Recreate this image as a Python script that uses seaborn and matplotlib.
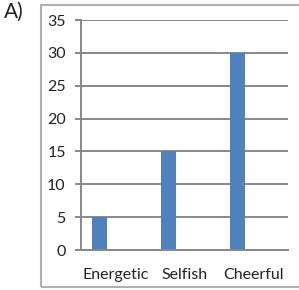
import numpy as np
import pandas as pd
import matplotlib
matplotlib.use("Agg")
import matplotlib.pyplot as plt
import seaborn as sns
from matplotlib.patches import Rectangle

categories = ["Energetic", "Selfish", "Cheerful"]
values = [5, 15, 30]
empty_series = [0, 0, 0]
y_ticks = [0, 5, 10, 15, 20, 25, 30, 35]

df = pd.DataFrame({
    "trait": categories * 2,
    "count": values + empty_series,
    "series": ["s1"] * 3 + ["s2"] * 3,
})

sns.set_style("white")
plt.rcParams["font.family"] = ["Lato", "DejaVu Sans"]

fig = plt.figure(figsize=(2.99, 2.90), dpi=100)
ax = fig.add_axes([81 / 299, 40 / 290, 207 / 299, 230 / 290])

sns.barplot(data=df, x="trait", y="count", hue="series", order=categories,
            palette=["#4f81bd", "#4f81bd"], saturation=1, width=0.92, gap=0.52,
            linewidth=0, legend=False, ax=ax)

ax.set_ylim(0, 35)
ax.set_xlim(-0.5, 2.5)
ax.set_yticks(y_ticks)
ax.set_xlabel("")
ax.set_ylabel("")
ax.set_axisbelow(True)
ax.yaxis.grid(True, color="#888888", linewidth=1.4)
ax.xaxis.grid(False)

for s in ["top", "right"]:
    ax.spines[s].set_visible(False)
for s in ["left", "bottom"]:
    ax.spines[s].set_color("#888888")
    ax.spines[s].set_linewidth(1.4)

ax.set_xticks([-0.5, 0.5, 1.5, 2.5], minor=True)
ax.tick_params(axis="x", which="major", length=0, pad=13, labelsize=11.5, labelcolor="#222222")
ax.tick_params(axis="x", which="minor", length=4, width=1.4, color="#888888", direction="out")
ax.tick_params(axis="y", length=4, width=1.4, color="#888888", direction="out",
               pad=7, labelsize=11.5, labelcolor="#222222")
ax.tick_params(left=True, bottom=True)

# outer chart box
fig.patches.append(Rectangle((41 / 299, 3 / 290), 1.0, 282 / 290,
                             transform=fig.transFigure, fill=False,
                             edgecolor="#b0b0b0", linewidth=1.5))
fig.text(4 / 299, 1 - 2 / 290, "A)", fontsize=15, va="top", ha="left", color="#222222")

fig.savefig("out.png", dpi=100)
